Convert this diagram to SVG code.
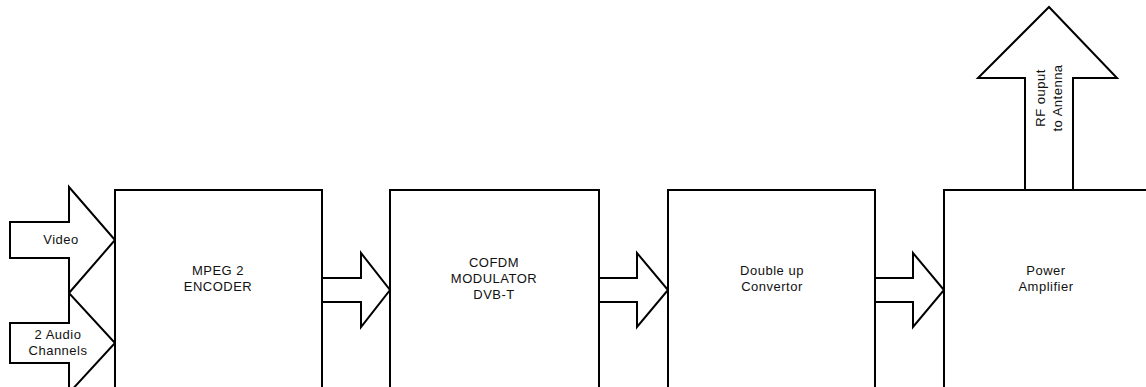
<svg xmlns="http://www.w3.org/2000/svg" width="1146" height="387" viewBox="0 0 1146 387">
<style>
.box{fill:#fff;stroke:#000;stroke-width:2}
.arr{fill:#fff;stroke:#000;stroke-width:2;stroke-linejoin:miter}
.t{font-family:"Liberation Sans",Arial,sans-serif;font-size:13px;fill:#111;text-anchor:middle;letter-spacing:0.5px}
</style>
<rect width="1146" height="387" fill="#fff"/>
<g id="connectors">
<polygon class="arr" points="10,222 69,222 69,187 115,240 69,293 69,258 10,258"/>
<polygon class="arr" points="10,323 69,323 69,293 115,343 69,393 69,363 10,363"/>
<polygon class="arr" points="322,278 361,278 361,253 390,290 361,327 361,302 322,302"/>
<polygon class="arr" points="599,278 637,278 637,253 668,290 637,327 637,302 599,302"/>
<polygon class="arr" points="875,278 913,278 913,253 944,290 913,327 913,302 875,302"/>
<polygon class="arr" points="1025,190 1025,78 978,78 1049,7 1117,78 1073,78 1073,190"/>
</g>
<g id="video-label"><text class="t" x="61" y="244">Video</text></g>
<g id="audio-label"><text class="t" x="58" y="339">2 Audio</text><text class="t" x="58" y="355">Channels</text></g>
<g id="encoder"><rect class="box" x="115" y="190" width="207" height="210"/><text class="t" x="218" y="275">MPEG 2</text><text class="t" x="218" y="291">ENCODER</text></g>
<g id="modulator"><rect class="box" x="390" y="190" width="209" height="210"/><text class="t" x="494" y="267">COFDM</text><text class="t" x="494" y="283">MODULATOR</text><text class="t" x="494" y="299">DVB-T</text></g>
<g id="convertor"><rect class="box" x="668" y="190" width="207" height="210"/><text class="t" x="772" y="275">Double up</text><text class="t" x="772" y="291">Convertor</text></g>
<g id="amplifier"><rect class="box" x="944" y="190" width="220" height="210"/><text class="t" x="1046" y="275">Power</text><text class="t" x="1046" y="291">Amplifier</text></g>
<g id="rf-label"><text class="t" transform="translate(1045,98) rotate(-90)">RF ouput</text><text class="t" transform="translate(1062,98) rotate(-90)">to Antenna</text></g>
</svg>
